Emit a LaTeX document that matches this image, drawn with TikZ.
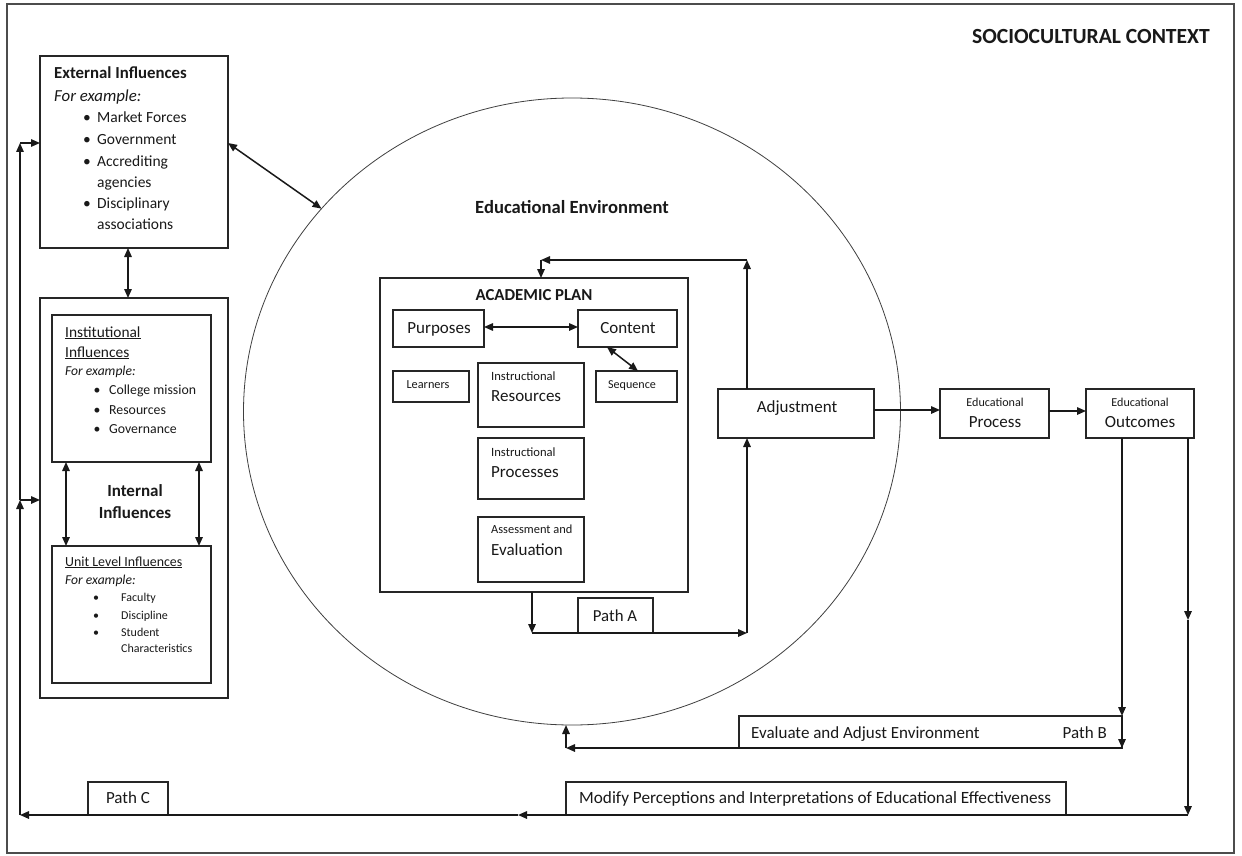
\documentclass[tikz,border=0pt]{standalone}
\usepackage{fontspec}
\setmainfont{Carlito}
\usetikzlibrary{arrows.meta,calc,shapes.geometric}

\tikzset{
  box/.style={draw=black!85, line width=1.2pt, inner sep=0pt, outer sep=0pt, anchor=north west},
  lt/.style={inner sep=0pt, anchor=base west, text=black!90},
  ct/.style={inner sep=0pt, anchor=base, text=black!90},
  rt/.style={inner sep=0pt, anchor=base east, text=black!90},
  fs/.style={font=\fontsize{#1}{#1}\selectfont},
  fsb/.style={font=\fontsize{#1}{#1}\selectfont\bfseries},
  fsi/.style={font=\fontsize{#1}{#1}\selectfont\itshape},
  tip/.tip={Triangle[length=9pt,width=7.5pt]},
  arr/.style={line width=1.5pt, draw=black!90, -tip},
  darr/.style={line width=1.5pt, draw=black!90, tip-tip},
}

\begin{document}
\begin{tikzpicture}[x=1pt,y=-1pt]
\useasboundingbox (0,0) rectangle (1242,856);
\fill[white] (0,0) rectangle (1242,856);
\draw[black!70, line width=1.2pt] (7,4) rectangle (1234,853);

% ---- title
\node[rt, fsb=21.6] (title) at (1210,44) {SOCIOCULTURAL CONTEXT};

% ---- educational environment
\node[ellipse, draw=black!75, line width=0.8pt, minimum width=657pt, minimum height=627pt, inner sep=0pt, outer sep=0pt] (env) at (572,411.5) {};
\node[ct, fsb=18.6] (envlbl) at (572,213) {Educational Environment};

% ---- external influences
\node[box, minimum width=188pt, minimum height=192pt] (ext) at (40,56) {};
\node[lt, fsb=16.8] (extt) at (54,79) {External Influences};
\node[lt, fsi=16.8] (extfe) at (54,102) {For example:};
\foreach \yy/\tx/\b in {123/Market Forces/1, 145/Government/1, 167/Accrediting/1, 187/agencies/0, 208/Disciplinary/1, 229/associations/0}{
  \node[lt, fs=15.5] at (97,\yy) {\tx};
  \ifnum\b=1 \node[ct, fs=15.5] at (87,\yy) {\textbullet}; \fi
}

% ---- internal influences
\node[box, minimum width=188pt, minimum height=400pt] (int) at (40,298) {};
\node[box, minimum width=159pt, minimum height=147pt] (inst) at (52,315) {};
\node[lt, fs=15.4] (instt) at (65,337) {\underline{Institutional}};
\node[lt, fs=15.4] (instt2) at (65,357) {\underline{Influences}};
\node[lt, fsi=13.6] (instfe) at (65,375) {For example:};
\foreach \yy/\tx in {394/College mission, 414/Resources, 433/Governance}{
  \node[lt, fs=13.8] at (109,\yy) {\tx};
  \node[ct, fs=13.8] at (97,\yy) {\textbullet};
}
\node[ct, fsb=17] (intt) at (135,496) {Internal};
\node[ct, fsb=17] (intt2) at (135,518) {Influences};

\node[box, minimum width=159pt, minimum height=137pt] (unit) at (52,546) {};
\node[lt, fs=13.9] (unitt) at (65,566) {\underline{Unit Level Influences}};
\node[lt, fsi=13.6] (unitfe) at (65,584) {For example:};
\foreach \yy/\tx/\b in {601/Faculty/1, 619/Discipline/1, 636/Student/1, 652/Characteristics/0}{
  \node[lt, fs=12] at (121,\yy) {\tx};
  \ifnum\b=1 \node[ct, fs=12] at (96,\yy) {\textbullet}; \fi
}

% ---- academic plan
\node[box, minimum width=308pt, minimum height=314pt] (plan) at (380,278) {};
\node[ct, fsb=16.8] (plant) at (534,300) {ACADEMIC PLAN};

\node[box, minimum width=91pt, minimum height=37pt] (purp) at (393,310) {};
\node[ct, fs=17] at (439,333) {Purposes};
\node[box, minimum width=99pt, minimum height=37pt] (cont) at (578,310) {};
\node[ct, fs=17] at (628,333) {Content};

\node[box, minimum width=76pt, minimum height=31pt] (learn) at (393,371) {};
\node[ct, fs=12.3] at (428,388) {Learners};
\node[box, minimum width=81pt, minimum height=31pt] (seq) at (596,371) {};
\node[ct, fs=12.1] at (632,388) {Sequence};

\node[box, minimum width=106pt, minimum height=64pt] (ires) at (478,363) {};
\node[lt, fs=12.6] at (491,380) {Instructional};
\node[lt, fs=17] at (491,401) {Resources};
\node[box, minimum width=106pt, minimum height=61pt] (iproc) at (478,438) {};
\node[lt, fs=12.6] at (491,456) {Instructional};
\node[lt, fs=17] at (491,477) {Processes};
\node[box, minimum width=106pt, minimum height=65pt] (assess) at (478,517) {};
\node[lt, fs=12.4] at (491,533) {Assessment and};
\node[lt, fs=17] at (491,555) {Evaluation};

% ---- adjustment and path A
\node[box, minimum width=156pt, minimum height=49pt] (adj) at (718,389) {};
\node[ct, fs=17] at (797,412) {Adjustment};
\node[box, minimum width=75pt, minimum height=35pt] (patha) at (578,598) {};
\node[ct, fs=16.8] at (615,621) {Path A};

% ---- process and outcomes
\node[box, minimum width=109pt, minimum height=49pt] (eproc) at (940,389) {};
\node[ct, fs=12.1] at (995,406) {Educational};
\node[ct, fs=17] at (995,427) {Process};
\node[box, minimum width=108pt, minimum height=49pt] (eout) at (1086,389) {};
\node[ct, fs=12.1] at (1140,406) {Educational};
\node[ct, fs=17] at (1140,427) {Outcomes};

% ---- feedback boxes
\node[box, minimum width=383pt, minimum height=32pt] (eval) at (739,716) {};
\node[lt, fs=17] at (751,738) {Evaluate and Adjust Environment};
\node[rt, fs=17] at (1107,738) {Path B};
\node[box, minimum width=500pt, minimum height=33pt] (modify) at (566,782) {};
\node[lt, fs=17.2] at (579,803) {Modify Perceptions and Interpretations of Educational Effectiveness};
\node[box, minimum width=80pt, minimum height=33pt] (pathc) at (88,782) {};
\node[ct, fs=17] at (128,803) {Path C};

% ---- junction points
\coordinate (jTopR) at (747,260);
\coordinate (jTopL) at (541,260);
\coordinate (jBotL) at (532,633);
\coordinate (jBotR) at (747,633);
\coordinate (jB1) at (1122,716);
\coordinate (jB2) at (1122,748);
\coordinate (jB3) at (566,748);
\coordinate (jC1) at (1188,620);
\coordinate (jC2) at (1188,815);
\coordinate (jC3) at (518,815);
\coordinate (jC4) at (20,815);
\coordinate (jC5) at (20,500);
\coordinate (jC6) at (20,143);

% ---- connectors
\draw[darr] (ext.east |- 0,143) -- (env.141.4);
\draw[darr] (ext.south -| 128,0) -- (int.north -| 128,0);
\draw[darr] (inst.south -| 66,0) -- (unit.north -| 66,0);
\draw[darr] (inst.south -| 199,0) -- (unit.north -| 199,0);

\draw[darr] (purp.east |- 0,327) -- (cont.west |- 0,327);
\draw[darr] (cont.south -| 607,0) -- (seq.north -| 638,0);

\draw[arr] (adj.north -| jTopR) -- (jTopR);
\draw[arr] (jTopR) -- (jTopL);
\draw[arr] (jTopL) -- (plan.north -| jTopL);

\draw[arr] (plan.south -| jBotL) -- (jBotL);
\draw[arr] (jBotL) -- (jBotR);
\draw[arr] (jBotR) -- (adj.south -| jBotR);

\draw[arr] (adj.east |- 0,410) -- (eproc.west |- 0,410);
\draw[arr] (eproc.east |- 0,411) -- (eout.west |- 0,411);

\draw[arr] (eout.south -| jB1) -- (jB1);
\draw[arr] (jB1) -- (jB2);
\draw[arr] (jB2) -- (jB3);
\draw[arr] (jB3) -- (env.south -| jB3);

\draw[arr] (eout.south -| jC1) -- (jC1);
\draw[arr] (jC1) -- (jC2);
\draw[arr] (jC2) -- (jC3);
\draw[arr] (jC3) -- (jC4);
\draw[arr] (jC4) -- (jC5);
\draw[arr] (jC5) -- (int.west |- jC5);
\draw[arr] (jC5) -- (jC6);
\draw[arr] (jC6) -- (ext.west |- jC6);
\end{tikzpicture}
\end{document}
